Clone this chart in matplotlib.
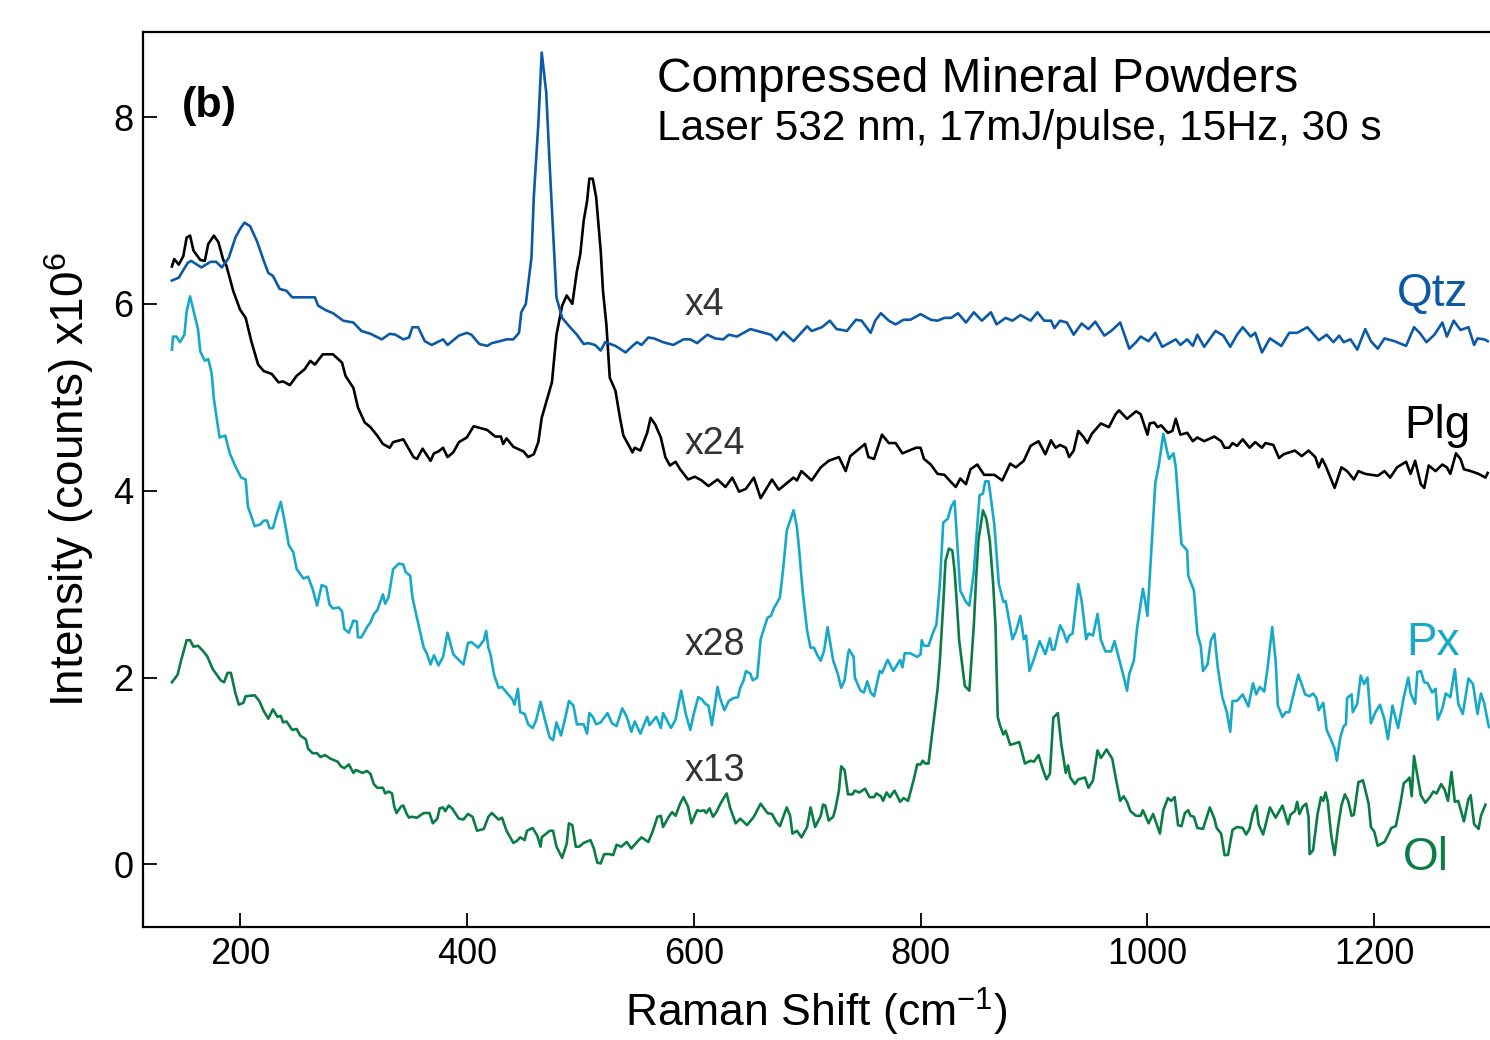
import numpy as np
import matplotlib
matplotlib.use("Agg")
import matplotlib.pyplot as plt

# ---- data: (Raman shift cm^-1, intensity x10^6 counts, scaled & offset) ----
qtz = [(140, 6.25), (146, 6.28), (154, 6.44), (157, 6.46), (166, 6.39), (174, 6.45), (179, 6.45),
       (184, 6.39), (190, 6.49), (196, 6.71), (200, 6.80), (204, 6.87), (209, 6.83), (215, 6.67),
       (221, 6.46), (225, 6.33), (229, 6.30), (235, 6.16), (241, 6.14), (246, 6.07), (253, 6.07),
       (259, 6.07), (266, 6.07), (269, 5.98), (276, 5.93), (282, 5.90), (291, 5.82), (300, 5.80),
       (307, 5.71), (315, 5.68), (325, 5.62), (332, 5.68), (337, 5.67), (344, 5.62), (349, 5.64),
       (352, 5.75), (357, 5.75), (363, 5.60), (369, 5.56), (374, 5.59), (379, 5.62), (383, 5.56),
       (393, 5.66), (400, 5.69), (404, 5.67), (411, 5.57), (418, 5.55), (422, 5.58), (429, 5.60),
       (435, 5.62), (441, 5.62), (446, 5.69), (448, 5.91), (452, 6.00), (457, 6.50), (459, 7.14),
       (463, 7.92), (466, 8.69), (470, 8.26), (473, 7.49), (476, 6.78), (479, 6.07), (484, 5.85),
       (491, 5.75), (497, 5.67), (503, 5.57), (507, 5.58), (513, 5.56), (518, 5.50), (522, 5.59),
       (531, 5.55), (540, 5.48), (546, 5.55), (550, 5.59), (554, 5.56), (560, 5.64), (565, 5.63),
       (573, 5.59), (582, 5.56), (591, 5.62), (597, 5.62), (603, 5.58), (612, 5.67), (619, 5.63),
       (626, 5.62), (631, 5.67), (638, 5.65), (650, 5.73), (659, 5.70), (668, 5.67), (673, 5.61),
       (679, 5.70), (688, 5.60), (700, 5.76), (704, 5.71), (713, 5.75), (720, 5.82), (726, 5.73),
       (731, 5.72), (735, 5.71), (743, 5.83), (748, 5.82), (756, 5.69), (760, 5.82), (765, 5.90),
       (772, 5.82), (778, 5.78), (785, 5.83), (791, 5.83), (800, 5.89), (809, 5.83), (815, 5.82),
       (821, 5.85), (827, 5.85), (833, 5.90), (840, 5.80), (847, 5.91), (854, 5.82), (862, 5.91),
       (867, 5.78), (875, 5.85), (881, 5.82), (888, 5.88), (897, 5.82), (903, 5.91), (909, 5.82),
       (915, 5.82), (918, 5.74), (923, 5.82), (929, 5.80), (935, 5.67), (942, 5.79), (948, 5.73),
       (954, 5.81), (962, 5.66), (968, 5.71), (976, 5.80), (984, 5.52), (990, 5.59), (994, 5.65),
       (1001, 5.60), (1007, 5.69), (1013, 5.54), (1019, 5.58), (1025, 5.62), (1029, 5.56),
       (1035, 5.62), (1040, 5.55), (1044, 5.67), (1050, 5.54), (1060, 5.71), (1067, 5.66),
       (1073, 5.54), (1079, 5.67), (1084, 5.75), (1091, 5.65), (1095, 5.69), (1101, 5.48),
       (1108, 5.63), (1118, 5.55), (1125, 5.69), (1132, 5.69), (1141, 5.75), (1151, 5.61),
       (1158, 5.67), (1164, 5.59), (1169, 5.66), (1173, 5.59), (1179, 5.62), (1185, 5.51),
       (1192, 5.73), (1197, 5.60), (1203, 5.52), (1209, 5.63), (1218, 5.60), (1228, 5.55),
       (1235, 5.75), (1240, 5.69), (1246, 5.59), (1253, 5.67), (1260, 5.80), (1264, 5.65),
       (1270, 5.82), (1276, 5.72), (1283, 5.75), (1288, 5.56), (1291, 5.63), (1297, 5.62),
       (1300, 5.60)]

plg = [(140, 6.40), (142, 6.48), (146, 6.42), (150, 6.51), (153, 6.71), (156, 6.73), (159, 6.57),
       (165, 6.47), (169, 6.46), (172, 6.64), (177, 6.73), (181, 6.66), (185, 6.48), (188, 6.41),
       (194, 6.14), (200, 5.94), (205, 5.85), (210, 5.60), (216, 5.35), (221, 5.28), (228, 5.25),
       (234, 5.16), (238, 5.17), (244, 5.13), (250, 5.23), (257, 5.30), (262, 5.39), (266, 5.35),
       (273, 5.46), (282, 5.46), (290, 5.37), (293, 5.23), (300, 5.10), (304, 4.89), (310, 4.73),
       (315, 4.68), (321, 4.59), (326, 4.50), (332, 4.46), (335, 4.52), (344, 4.55), (353, 4.36),
       (356, 4.34), (361, 4.45), (368, 4.32), (371, 4.40), (375, 4.42), (379, 4.46), (383, 4.36),
       (388, 4.41), (393, 4.52), (400, 4.57), (406, 4.69), (418, 4.65), (425, 4.58), (430, 4.58),
       (432, 4.50), (435, 4.56), (441, 4.47), (450, 4.42), (454, 4.36), (459, 4.39), (463, 4.52),
       (466, 4.78), (475, 5.16), (479, 5.67), (484, 5.98), (488, 6.09), (493, 6.00), (497, 6.35),
       (500, 6.53), (503, 6.89), (506, 7.10), (508, 7.34), (511, 7.34), (514, 7.14), (518, 6.57),
       (520, 6.14), (523, 5.78), (526, 5.21), (531, 5.07), (535, 4.78), (538, 4.59), (543, 4.48),
       (546, 4.41), (548, 4.46), (553, 4.43), (559, 4.62), (562, 4.78), (566, 4.71), (571, 4.57),
       (575, 4.36), (579, 4.27), (584, 4.31), (588, 4.23), (595, 4.12), (601, 4.15), (607, 4.11),
       (613, 4.05), (621, 4.12), (628, 4.04), (634, 4.14), (640, 3.99), (646, 4.02), (653, 4.14),
       (659, 3.92), (663, 4.00), (669, 4.12), (675, 4.01), (681, 4.07), (688, 4.14), (691, 4.11),
       (695, 4.21), (704, 4.11), (712, 4.25), (719, 4.32), (728, 4.36), (734, 4.21), (738, 4.37),
       (744, 4.43), (751, 4.50), (754, 4.36), (759, 4.34), (766, 4.60), (772, 4.51), (778, 4.51),
       (784, 4.40), (790, 4.43), (796, 4.46), (800, 4.46), (803, 4.34), (809, 4.28), (815, 4.18),
       (821, 4.17), (827, 4.09), (831, 4.04), (835, 4.13), (840, 4.07), (844, 4.23), (850, 4.28),
       (856, 4.17), (865, 4.17), (872, 4.11), (879, 4.29), (884, 4.25), (891, 4.32), (897, 4.48),
       (904, 4.53), (910, 4.39), (915, 4.54), (919, 4.46), (923, 4.49), (928, 4.46), (931, 4.36),
       (935, 4.43), (939, 4.64), (944, 4.57), (947, 4.51), (951, 4.61), (959, 4.72), (966, 4.68),
       (972, 4.82), (975, 4.86), (982, 4.77), (990, 4.85), (994, 4.82), (1000, 4.60), (1002, 4.72),
       (1006, 4.73), (1009, 4.68), (1012, 4.70), (1018, 4.62), (1022, 4.64), (1025, 4.77),
       (1029, 4.60), (1035, 4.62), (1040, 4.53), (1044, 4.57), (1050, 4.53), (1059, 4.58),
       (1065, 4.53), (1068, 4.46), (1072, 4.46), (1075, 4.51), (1079, 4.48), (1084, 4.55),
       (1090, 4.46), (1095, 4.52), (1101, 4.46), (1104, 4.51), (1111, 4.49), (1116, 4.35),
       (1120, 4.39), (1125, 4.41), (1130, 4.43), (1136, 4.37), (1142, 4.43), (1148, 4.36),
       (1151, 4.25), (1154, 4.34), (1157, 4.27), (1165, 4.03), (1171, 4.25), (1176, 4.21),
       (1182, 4.12), (1186, 4.21), (1192, 4.18), (1203, 4.16), (1209, 4.21), (1214, 4.14),
       (1220, 4.25), (1228, 4.31), (1232, 4.18), (1236, 4.32), (1241, 4.07), (1244, 4.03),
       (1248, 4.27), (1254, 4.21), (1260, 4.28), (1264, 4.25), (1267, 4.18), (1272, 4.40),
       (1276, 4.34), (1279, 4.23), (1285, 4.21), (1292, 4.18), (1298, 4.14), (1300, 4.19)]

px = [(140, 5.51), (141, 5.65), (144, 5.65), (147, 5.59), (151, 5.67), (153, 5.92), (156, 6.08),
      (160, 5.88), (163, 5.73), (165, 5.49), (169, 5.39), (172, 5.41), (175, 5.26), (177, 4.98),
      (182, 4.57), (187, 4.59), (191, 4.40), (196, 4.26), (201, 4.14), (205, 4.12), (207, 3.83),
      (213, 3.62), (218, 3.64), (221, 3.68), (224, 3.68), (226, 3.60), (229, 3.60), (233, 3.77),
      (236, 3.88), (240, 3.63), (243, 3.42), (247, 3.34), (250, 3.16), (256, 3.06), (260, 3.08),
      (264, 2.95), (268, 2.77), (272, 2.99), (276, 2.97), (279, 2.78), (282, 2.74), (287, 2.75),
      (290, 2.71), (292, 2.52), (296, 2.48), (300, 2.61), (303, 2.60), (304, 2.43), (307, 2.43),
      (312, 2.54), (315, 2.59), (318, 2.68), (321, 2.72), (326, 2.89), (328, 2.79), (331, 2.86),
      (335, 3.16), (340, 3.22), (344, 3.21), (346, 3.13), (350, 3.09), (352, 2.86), (356, 2.64),
      (362, 2.32), (365, 2.25), (368, 2.14), (371, 2.24), (375, 2.13), (379, 2.22), (383, 2.48),
      (388, 2.25), (392, 2.20), (397, 2.14), (401, 2.37), (404, 2.38), (410, 2.32), (415, 2.40),
      (417, 2.50), (419, 2.32), (421, 2.24), (424, 2.03), (428, 1.89), (431, 1.90), (435, 1.84),
      (440, 1.77), (442, 1.71), (445, 1.88), (447, 1.63), (451, 1.61), (454, 1.50), (458, 1.46),
      (461, 1.54), (465, 1.74), (469, 1.54), (473, 1.36), (476, 1.33), (479, 1.52), (483, 1.38),
      (487, 1.58), (490, 1.75), (494, 1.70), (497, 1.50), (503, 1.50), (506, 1.40), (508, 1.62),
      (511, 1.58), (514, 1.50), (518, 1.52), (524, 1.62), (528, 1.51), (532, 1.48), (537, 1.67),
      (541, 1.58), (545, 1.42), (548, 1.53), (553, 1.40), (559, 1.58), (561, 1.49), (567, 1.58),
      (571, 1.46), (573, 1.62), (580, 1.46), (584, 1.55), (589, 1.86), (593, 1.61), (597, 1.44),
      (600, 1.61), (604, 1.79), (607, 1.77), (610, 1.72), (613, 1.70), (616, 1.49), (621, 1.90),
      (623, 1.79), (627, 1.65), (631, 1.75), (635, 1.78), (639, 1.79), (641, 1.89), (644, 1.97),
      (646, 2.07), (650, 2.04), (652, 1.97), (656, 2.00), (659, 2.41), (665, 2.64), (668, 2.66),
      (671, 2.75), (673, 2.79), (676, 2.86), (679, 3.18), (682, 3.57), (685, 3.68), (688, 3.79),
      (691, 3.61), (693, 3.36), (696, 2.93), (700, 2.50), (703, 2.32), (706, 2.32), (709, 2.24),
      (712, 2.18), (715, 2.29), (718, 2.54), (723, 2.18), (727, 2.04), (730, 1.89), (733, 1.97),
      (736, 2.25), (737, 2.30), (741, 2.22), (742, 2.00), (747, 1.86), (750, 1.84), (753, 1.96),
      (756, 1.84), (759, 1.80), (764, 2.07), (766, 2.05), (771, 2.19), (776, 2.07), (782, 2.19),
      (784, 2.11), (786, 2.26), (791, 2.26), (797, 2.22), (800, 2.25), (801, 2.40), (803, 2.34),
      (807, 2.34), (810, 2.45), (814, 2.57), (817, 3.00), (820, 3.66), (824, 3.70), (827, 3.83),
      (830, 3.89), (832, 3.50), (835, 2.93), (840, 2.81), (843, 2.77), (847, 3.14), (852, 3.95),
      (855, 3.97), (857, 4.10), (860, 4.10), (865, 3.64), (869, 3.00), (873, 2.81), (875, 2.82),
      (881, 2.41), (884, 2.49), (888, 2.66), (891, 2.41), (893, 2.45), (896, 2.07), (900, 2.20),
      (905, 2.39), (910, 2.25), (914, 2.42), (916, 2.30), (918, 2.30), (923, 2.56), (926, 2.49),
      (929, 2.38), (931, 2.45), (934, 2.47), (939, 3.00), (942, 2.82), (946, 2.41), (948, 2.47),
      (952, 2.45), (956, 2.68), (959, 2.40), (963, 2.28), (968, 2.28), (971, 2.39), (975, 2.20),
      (979, 2.01), (982, 1.86), (984, 2.04), (988, 2.18), (991, 2.54), (996, 2.95), (998, 2.82),
      (1000, 2.66), (1003, 3.27), (1007, 4.09), (1010, 4.27), (1014, 4.61), (1017, 4.44),
      (1019, 4.34), (1023, 4.40), (1025, 4.25), (1030, 3.43), (1035, 3.36), (1036, 3.09),
      (1041, 2.93), (1044, 2.47), (1047, 2.34), (1049, 2.07), (1053, 2.14), (1056, 2.40),
      (1059, 2.47), (1062, 2.11), (1066, 1.79), (1070, 1.63), (1073, 1.42), (1075, 1.75),
      (1079, 1.75), (1084, 1.82), (1089, 1.69), (1093, 1.94), (1096, 1.82), (1099, 1.90),
      (1103, 1.85), (1106, 2.11), (1110, 2.54), (1113, 2.18), (1115, 1.70), (1119, 1.58),
      (1122, 1.63), (1125, 1.63), (1129, 1.83), (1133, 2.03), (1136, 1.93), (1139, 1.82),
      (1143, 1.80), (1146, 1.83), (1149, 1.78), (1151, 1.65), (1155, 1.73), (1158, 1.44),
      (1162, 1.33), (1165, 1.24), (1167, 1.11), (1170, 1.36), (1173, 1.48), (1175, 1.50),
      (1176, 1.78), (1180, 1.82), (1181, 1.63), (1185, 1.72), (1188, 2.02), (1191, 1.93),
      (1194, 2.00), (1197, 1.51), (1201, 1.63), (1205, 1.71), (1209, 1.55), (1212, 1.34),
      (1216, 1.70), (1221, 1.46), (1226, 1.79), (1230, 2.00), (1232, 1.83), (1236, 1.72),
      (1238, 2.06), (1241, 2.07), (1244, 1.95), (1247, 1.94), (1251, 1.84), (1254, 1.88),
      (1256, 1.55), (1260, 1.67), (1263, 1.83), (1267, 1.79), (1271, 2.09), (1274, 1.72),
      (1278, 1.61), (1283, 1.99), (1287, 1.93), (1291, 1.61), (1294, 1.83), (1297, 1.72),
      (1301, 1.47)]

ol = [(140, 1.95), (145, 2.03), (148, 2.18), (153, 2.40), (156, 2.40), (159, 2.33), (163, 2.34),
      (167, 2.29), (171, 2.23), (176, 2.09), (183, 1.97), (186, 1.95), (189, 2.05), (192, 2.05),
      (196, 1.83), (199, 1.71), (203, 1.73), (205, 1.80), (213, 1.81), (217, 1.75), (221, 1.64),
      (225, 1.56), (229, 1.66), (233, 1.58), (236, 1.59), (238, 1.52), (241, 1.53), (246, 1.44),
      (250, 1.45), (253, 1.38), (258, 1.34), (260, 1.24), (264, 1.19), (268, 1.19), (271, 1.15),
      (275, 1.17), (280, 1.13), (286, 1.10), (289, 1.05), (292, 1.03), (296, 1.07), (300, 0.98),
      (302, 1.01), (308, 0.98), (312, 1.00), (315, 0.97), (318, 0.86), (321, 0.82), (326, 0.82),
      (328, 0.76), (331, 0.78), (334, 0.76), (336, 0.62), (338, 0.55), (342, 0.62), (344, 0.63),
      (347, 0.54), (349, 0.50), (351, 0.51), (356, 0.50), (362, 0.55), (367, 0.55), (370, 0.44),
      (374, 0.49), (376, 0.60), (379, 0.61), (381, 0.57), (384, 0.63), (387, 0.60), (393, 0.49),
      (397, 0.48), (401, 0.54), (405, 0.51), (409, 0.36), (415, 0.38), (419, 0.51), (422, 0.55),
      (428, 0.48), (431, 0.50), (435, 0.36), (441, 0.23), (444, 0.25), (447, 0.29), (451, 0.26),
      (453, 0.36), (458, 0.39), (462, 0.31), (465, 0.19), (466, 0.29), (473, 0.36), (476, 0.36),
      (479, 0.19), (484, 0.07), (488, 0.22), (490, 0.44), (493, 0.42), (496, 0.19), (499, 0.19),
      (503, 0.23), (509, 0.26), (512, 0.17), (515, 0.02), (518, 0.01), (521, 0.11), (526, 0.11),
      (529, 0.10), (532, 0.21), (536, 0.19), (541, 0.24), (545, 0.17), (550, 0.24), (554, 0.29),
      (560, 0.24), (564, 0.36), (568, 0.51), (571, 0.52), (573, 0.40), (578, 0.51), (581, 0.56),
      (584, 0.52), (588, 0.65), (591, 0.72), (595, 0.62), (598, 0.44), (603, 0.58), (606, 0.57),
      (609, 0.58), (611, 0.55), (614, 0.60), (617, 0.51), (620, 0.56), (624, 0.66), (629, 0.76),
      (632, 0.61), (637, 0.44), (641, 0.49), (647, 0.42), (653, 0.51), (659, 0.65), (665, 0.55),
      (669, 0.54), (673, 0.45), (676, 0.41), (682, 0.61), (685, 0.52), (687, 0.33), (691, 0.36),
      (695, 0.29), (700, 0.40), (703, 0.61), (707, 0.40), (712, 0.52), (714, 0.64), (716, 0.63),
      (719, 0.47), (723, 0.51), (725, 0.60), (728, 0.79), (730, 1.05), (733, 1.01), (736, 0.75),
      (740, 0.75), (742, 0.79), (746, 0.77), (751, 0.81), (755, 0.72), (759, 0.72), (761, 0.76),
      (765, 0.73), (767, 0.68), (770, 0.77), (773, 0.72), (777, 0.79), (782, 0.67), (785, 0.71),
      (789, 0.68), (794, 0.91), (797, 1.07), (800, 1.07), (802, 1.11), (804, 1.08), (807, 1.08),
      (812, 1.58), (815, 1.88), (817, 2.18), (820, 2.79), (822, 3.25), (825, 3.38), (828, 3.36),
      (830, 3.14), (832, 2.79), (834, 2.40), (837, 2.11), (839, 1.91), (843, 1.86), (845, 2.22),
      (847, 2.57), (849, 3.07), (851, 3.47), (855, 3.79), (858, 3.70), (861, 3.47), (864, 3.00),
      (866, 2.57), (868, 1.58), (870, 1.49), (873, 1.39), (875, 1.43), (879, 1.28), (882, 1.29),
      (887, 1.31), (892, 1.08), (897, 1.11), (900, 1.10), (904, 1.17), (908, 1.01), (911, 0.91),
      (914, 0.97), (917, 1.57), (921, 1.62), (924, 1.29), (928, 0.98), (930, 1.06), (932, 0.93),
      (936, 0.86), (939, 0.91), (945, 0.93), (948, 0.82), (952, 0.90), (956, 1.22), (959, 1.14),
      (964, 1.23), (969, 1.13), (972, 0.93), (976, 0.68), (979, 0.73), (982, 0.67), (985, 0.57),
      (990, 0.52), (994, 0.52), (996, 0.58), (1001, 0.44), (1005, 0.54), (1011, 0.33),
      (1014, 0.58), (1018, 0.71), (1021, 0.68), (1024, 0.72), (1027, 0.42), (1030, 0.41),
      (1033, 0.55), (1036, 0.58), (1038, 0.52), (1041, 0.51), (1044, 0.39), (1049, 0.38),
      (1055, 0.61), (1059, 0.49), (1061, 0.39), (1065, 0.33), (1068, 0.10), (1071, 0.10),
      (1075, 0.37), (1079, 0.40), (1084, 0.39), (1087, 0.32), (1090, 0.38), (1093, 0.55),
      (1096, 0.63), (1098, 0.43), (1102, 0.32), (1108, 0.61), (1113, 0.50), (1119, 0.63),
      (1124, 0.43), (1126, 0.53), (1130, 0.57), (1132, 0.67), (1134, 0.54), (1137, 0.62),
      (1140, 0.65), (1142, 0.51), (1143, 0.11), (1146, 0.15), (1150, 0.54), (1153, 0.72),
      (1155, 0.68), (1157, 0.77), (1159, 0.67), (1162, 0.31), (1165, 0.10), (1168, 0.40),
      (1171, 0.63), (1174, 0.75), (1177, 0.68), (1180, 0.52), (1182, 0.53), (1186, 0.88),
      (1190, 0.90), (1195, 0.65), (1197, 0.40), (1200, 0.35), (1203, 0.20), (1209, 0.24),
      (1212, 0.31), (1215, 0.39), (1219, 0.41), (1223, 0.65), (1226, 0.87), (1229, 0.90),
      (1231, 0.93), (1233, 0.73), (1235, 1.16), (1238, 0.95), (1241, 0.74), (1245, 0.66),
      (1249, 0.72), (1252, 0.78), (1255, 0.76), (1259, 0.86), (1262, 0.80), (1265, 0.68),
      (1268, 0.99), (1271, 0.67), (1274, 0.68), (1279, 0.46), (1283, 0.70), (1285, 0.74),
      (1288, 0.43), (1292, 0.38), (1294, 0.52), (1298, 0.64)]

series_names = ["Qtz", "Plg", "Px", "Ol"]
scale_labels = ["x4", "x24", "x28", "x13"]
x_ticks = [200, 400, 600, 800, 1000, 1200]
y_ticks = [0, 2, 4, 6, 8]

# ---- style ----
FONT = ["Liberation Sans", "DejaVu Sans"]
plt.rcParams["font.family"] = FONT
plt.rcParams["mathtext.fontset"] = "custom"
plt.rcParams["mathtext.rm"] = "Liberation Sans"
plt.rcParams["mathtext.it"] = "Liberation Sans"

colors = {"Qtz": "#0c5aa6", "Plg": "#000000", "Px": "#17a9c7", "Ol": "#0a7d45"}
data = {"Qtz": qtz, "Plg": plg, "Px": px, "Ol": ol}

fig = plt.figure(figsize=(14.9, 10.4), dpi=100)
ax = fig.add_axes([143 / 1490, 1 - 927 / 1040, 1347 / 1490, 895 / 1040])

for name in ["Ol", "Px", "Plg", "Qtz"]:
    arr = np.array(data[name])
    ax.plot(arr[:, 0], arr[:, 1], color=colors[name], lw=1.9, solid_joinstyle="round")

ax.set_xlim(114.5, 1302)
ax.set_ylim(-0.67, 8.91)
ax.set_xticks(x_ticks)
ax.set_yticks(y_ticks)
ax.tick_params(direction="in", length=10, width=1.3, labelsize=26, pad=7)
for s in ax.spines.values():
    s.set_linewidth(1.6)
ax.spines["right"].set_visible(False)

ax.set_xlabel("Raman Shift (cm$^{-1}$)", fontsize=32, labelpad=10)
ax.set_ylabel("Intensity (counts) x10$^{6}$", fontsize=33, labelpad=12)

# annotations
ax.text(0.029, 0.905, "(b)", transform=ax.transAxes, fontsize=31, fontweight="bold",
        va="baseline", ha="left")
ax.text(0.3816, 0.933, "Compressed Mineral Powders", transform=ax.transAxes, fontsize=34.5,
        va="baseline", ha="left")
ax.text(0.3816, 0.879, "Laser 532 nm, 17mJ/pulse, 15Hz, 30 s", transform=ax.transAxes,
        fontsize=30.5, va="baseline", ha="left")

scale_pos = [(592, 5.88), (592, 4.39), (592, 2.24), (592, 0.89)]
for lab, (xx, yy) in zip(scale_labels, scale_pos):
    ax.text(xx, yy, lab, fontsize=27, color="#333333", va="baseline", ha="left")

name_pos = [(1283, 5.98), (1285, 4.56), (1275, 2.24), (1266, -0.06)]
for nm, (xx, yy) in zip(series_names, name_pos):
    ax.text(xx, yy, nm, fontsize=33, color=colors[nm], va="baseline", ha="right")

fig.savefig("out.png", dpi=100)
